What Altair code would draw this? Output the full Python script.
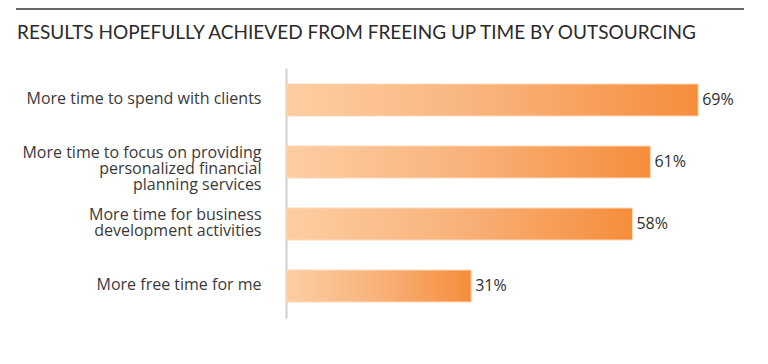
import altair as alt
import pandas as pd

categories = [
    "More time to spend with clients",
    "More time to focus on providing|personalized financial|planning services",
    "More time for business|development activities",
    "More free time for me",
]
values = [69, 61, 58, 31]
labels = ["69%", "61%", "58%", "31%"]
title_text = ["RESULTS HOPEFULLY ACHIEVED FROM FREEING UP TIME BY OUTSOURCING"]

df = pd.DataFrame({"cat": categories, "val": values, "lab": labels})
tdf = pd.DataFrame({"t": title_text})

FONT = "Open Sans"

y_enc = alt.Y(
    "cat:N",
    sort=categories,
    scale=alt.Scale(paddingInner=0.484, paddingOuter=0.258),
    axis=alt.Axis(
        title=None,
        ticks=False,
        domain=True,
        domainColor="#cfcfcf",
        domainWidth=2,
        labelExpr="split(datum.label, '|')",
        labelFont=FONT,
        labelFontSize=16,
        labelColor="#3a3a3a",
        labelPadding=25,
        labelLineHeight=16,
        labelLimit=300,
        labelOffset={"condition": {"test": "indexof(datum.value, '|') >= 0", "value": -9}, "value": -1},
    ),
)

x_enc = alt.X("val:Q", scale=alt.Scale(domain=[0, 76]), axis=None)

bars = alt.Chart(df).mark_bar(
    color=alt.Gradient(
        gradient="linear",
        stops=[
            alt.GradientStop(color="#FDCEA3", offset=0),
            alt.GradientStop(color="#F8B27A", offset=0.5),
            alt.GradientStop(color="#F68D3B", offset=1),
        ],
        x1=0, x2=1, y1=0, y2=0,
    ),
    stroke="#FBD9BC",
    strokeWidth=1,
).encode(x=x_enc, y=y_enc)

text = alt.Chart(df).mark_text(
    align="left", baseline="middle", dx=4, font=FONT, fontSize=16, color="#2f2f2f"
).encode(x=x_enc, y=y_enc, text="lab:N")

top_line = alt.Chart(tdf).mark_rule(color="#666666", strokeWidth=2).encode(
    x=alt.value(-270), x2=alt.value(458), y=alt.value(-59)
)

title = alt.Chart(tdf).mark_text(
    align="left", baseline="middle", font="Lato", fontSize=19, color="#2a2a2a"
).encode(x=alt.value(-269), y=alt.value(-35), text="t:N")

chart = (
    alt.layer(bars, text, top_line, title)
    .properties(
        width=454,
        height=250,
        padding={"left": 278, "top": 60, "right": 14, "bottom": 30},
        autosize=alt.AutoSizeParams(type="none"),
    )
    .configure_view(stroke=None)
)

chart.save("out.html", embed_options={"renderer": "svg", "actions": False})
